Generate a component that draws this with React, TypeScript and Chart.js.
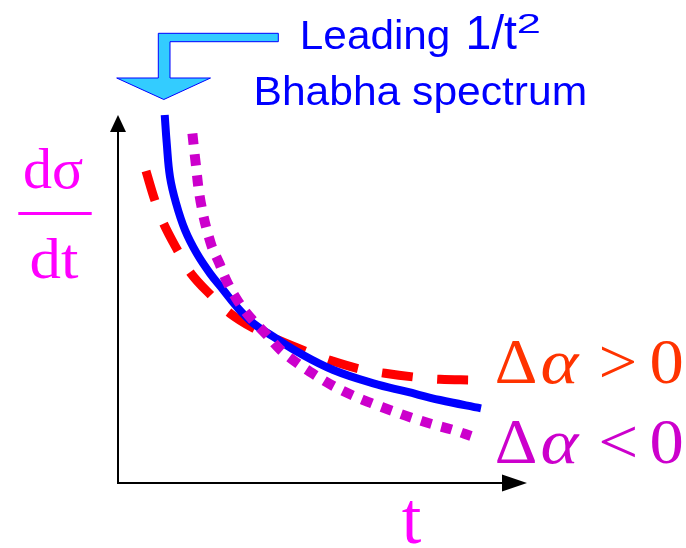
import React, { useEffect, useRef } from "react";
import { Chart, registerables } from "chart.js";

Chart.register(...registerables);

// Momentum transfer t (arbitrary units) and dσ/dt (arbitrary units)
const bhabhaT = [11.68, 12.18, 13.0, 14.5, 16.75, 19.68, 23.0, 26.33, 29.68, 33.83, 38.83, 45.5, 53.83, 63.83, 72.18, 80.5, 90.75];
const bhabhaRate = [100.0, 92.39, 83.15, 76.09, 68.75, 62.42, 56.98, 52.45, 47.91, 43.4, 39.76, 35.24, 30.71, 27.09, 24.81, 22.55, 20.3];

const positiveT = [7.0, 9.25, 11.33, 15.08, 18.25, 23.43, 28.0, 34.25, 40.0, 47.18, 53.43, 60.5, 66.75, 74.68, 80.5, 88.68];
const positiveRate = [84.78, 76.71, 70.65, 62.85, 56.93, 50.82, 46.11, 41.85, 38.86, 35.68, 33.2, 30.98, 29.81, 28.72, 28.18, 27.99];

const negativeT = [18.6, 19.33, 20.68, 23.18, 25.33, 27.33, 30.08, 33.25, 37.0, 40.5, 44.68, 49.25, 53.83, 58.43, 63.43, 68.43, 73.43, 78.43, 83.83, 88.25];
const negativeRate = [94.97, 87.77, 76.28, 65.14, 59.7, 54.48, 49.27, 44.76, 40.49, 36.33, 32.69, 29.35, 26.36, 23.91, 21.66, 19.65, 17.74, 16.03, 14.4, 12.77];

const toPoints = (xs: number[], ys: number[]) => xs.map((x, i) => ({ x, y: ys[i] }));

const SANS = '"Liberation Sans", Arial, sans-serif';
const SERIF = '"Liberation Serif", "Times New Roman", serif';

// Draws text so that its ink starts at inkLeft, optionally fitted to an ink width.
function drawInk(
  ctx: CanvasRenderingContext2D,
  text: string,
  font: string,
  color: string,
  inkLeft: number,
  baseline: number,
  inkWidth?: number
) {
  ctx.save();
  ctx.font = font;
  ctx.fillStyle = color;
  ctx.textAlign = "left";
  ctx.textBaseline = "alphabetic";
  const m = ctx.measureText(text);
  const w = m.actualBoundingBoxLeft + m.actualBoundingBoxRight;
  ctx.translate(inkLeft, baseline);
  if (inkWidth && w > 0) ctx.scale(inkWidth / w, 1);
  ctx.fillText(text, m.actualBoundingBoxLeft, 0);
  ctx.restore();
}

const axesPlugin = {
  id: "arrowAxes",
  beforeDatasetsDraw(chart: Chart) {
    const { ctx } = chart;
    const xs = chart.scales.x;
    const ys = chart.scales.y;
    const ox = xs.getPixelForValue(0);
    const oy = ys.getPixelForValue(0);
    const top = ys.getPixelForValue(100);
    const right = xs.getPixelForValue(100);
    ctx.save();
    ctx.strokeStyle = "#000";
    ctx.fillStyle = "#000";
    ctx.lineWidth = 2;
    ctx.beginPath();
    ctx.moveTo(ox, oy + 1);
    ctx.lineTo(ox, top + 16);
    ctx.moveTo(ox - 1, oy);
    ctx.lineTo(right - 16, oy);
    ctx.stroke();
    // arrow heads
    ctx.beginPath();
    ctx.moveTo(ox, top);
    ctx.lineTo(ox - 8, top + 17);
    ctx.lineTo(ox + 8, top + 17);
    ctx.closePath();
    ctx.fill();
    ctx.beginPath();
    ctx.moveTo(right + 9, oy);
    ctx.lineTo(right - 16, oy - 8.5);
    ctx.lineTo(right - 16, oy + 8.5);
    ctx.closePath();
    ctx.fill();
    ctx.restore();
  },
};

const labelsPlugin = {
  id: "labels",
  afterDraw(chart: Chart) {
    const { ctx } = chart;
    ctx.save();

    // bent pointer arrow
    ctx.beginPath();
    ctx.moveTo(278.3, 33.3);
    ctx.lineTo(158.3, 33.3);
    ctx.lineTo(158.3, 78);
    ctx.lineTo(116.7, 78);
    ctx.lineTo(163.8, 99.5);
    ctx.lineTo(210.5, 78);
    ctx.lineTo(170, 78);
    ctx.lineTo(170, 41.7);
    ctx.lineTo(278.3, 41.7);
    ctx.closePath();
    ctx.fillStyle = "#33CCFF";
    ctx.fill();
    ctx.strokeStyle = "#0000FF";
    ctx.lineWidth = 1;
    ctx.stroke();

    const blue = "#0000FF";
    drawInk(ctx, "Leading", `40px ${SANS}`, blue, 303, 48.5, 145);
    drawInk(ctx, "1/t", `48px ${SANS}`, blue, 468.3, 48.5, 48.4);
    drawInk(ctx, "2", `28px ${SANS}`, blue, 518.3, 33.3, 21.7);
    drawInk(ctx, "Bhabha spectrum", `40px ${SANS}`, blue, 256.7, 105, 328);

    // dσ/dt
    const mag = "#FF00FF";
    drawInk(ctx, "dσ", `58px ${SERIF}`, mag, 25, 187.5, 58);
    ctx.fillStyle = mag;
    ctx.fillRect(18.3, 212, 73.4, 3);
    drawInk(ctx, "dt", `58px ${SERIF}`, mag, 31.7, 278.3, 46.6);
    drawInk(ctx, "t", `74px ${SERIF}`, mag, 401.7, 543.3, 20);

    // Δα labels
    const rows: [string, string, number][] = [
      [">", "#FF3300", 383.3],
      ["<", "#CC00CC", 463.3],
    ];
    for (const [op, color, base] of rows) {
      drawInk(ctx, "Δ", `64px ${SERIF}`, color, 496.7, base, 38.3);
      drawInk(ctx, "α", `italic 64px ${SERIF}`, color, 541.7, base, 38.3);
      drawInk(ctx, op, `64px ${SERIF}`, color, 601.7, base, 33.3);
      drawInk(ctx, "0", `64px ${SERIF}`, color, 651.7, base, 30);
    }
    ctx.restore();
  },
};

export default function App() {
  const ref = useRef<HTMLCanvasElement>(null);

  useEffect(() => {
    if (!ref.current) return;
    const chart = new Chart(ref.current, {
      type: "line",
      data: {
        datasets: [
          {
            label: "Δα < 0",
            data: toPoints(negativeT, negativeRate),
            borderColor: "#CC00CC",
            borderWidth: 10,
            borderDash: [11, 10],
            borderCapStyle: "butt",
            tension: 0.4,
            pointRadius: 0,
            clip: false,
            order: 0,
          },
          {
            label: "Leading 1/t²",
            data: toPoints(bhabhaT, bhabhaRate),
            borderColor: "#0000FF",
            borderWidth: 8,
            tension: 0.4,
            pointRadius: 0,
            clip: false,
            order: 1,
          },
          {
            label: "Δα > 0",
            data: toPoints(positiveT, positiveRate),
            borderColor: "#FF0000",
            borderWidth: 9,
            borderDash: [31, 24.5],
            borderCapStyle: "butt",
            tension: 0.4,
            pointRadius: 0,
            clip: false,
            order: 2,
          },
        ],
      },
      options: {
        animation: false,
        responsive: false,
        parsing: false,
        layout: { padding: { left: 118, top: 115, right: 168, bottom: 65 } },
        scales: {
          x: { type: "linear", min: 0, max: 100, display: false },
          y: { type: "linear", min: 0, max: 100, display: false },
        },
        plugins: { legend: { display: false }, tooltip: { enabled: false } },
        events: [],
      },
      plugins: [axesPlugin, labelsPlugin],
    } as any);
    return () => chart.destroy();
  }, []);

  return (
    <canvas
      ref={ref}
      width={686}
      height={548}
      style={{ position: "absolute", left: 0, top: 0, width: 686, height: 548, display: "block" }}
    />
  );
}
